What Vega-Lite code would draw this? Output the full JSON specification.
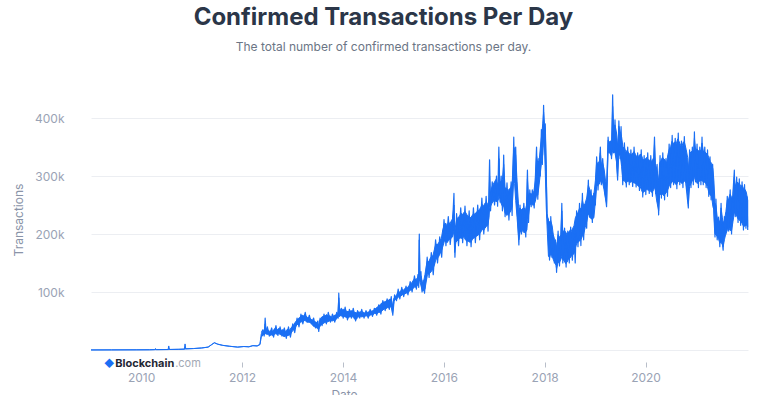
{
"$schema": "https://vega.github.io/schema/vega-lite/v6.json",
"width": 657,
"height": 261,
"padding": {"left": 12, "top": 6, "right": 33, "bottom": 0},
"background": "white",
"config": {"view": {"stroke": null}, "font": "Inter"},
"title": {"text": "Confirmed Transactions Per Day", "subtitle": "The total number of confirmed transactions per day.", "anchor": "middle", "frame": "bounds", "dx": 3, "font": "Inter", "fontSize": 24, "fontWeight": 700, "color": "#2b3648", "subtitleFont": "Inter", "subtitleFontSize": 12, "subtitleColor": "#6b7585", "subtitlePadding": 12, "offset": 36},
"layer": [
{
"data": {"values": [
{"d":"2009-01-03","h":100,"l":100},{"d":"2009-06-01","h":200,"l":200},{"d":"2009-12-01","h":300,"l":300},{"d":"2010-03-01","h":400,"l":400},
{"d":"2010-04-10","h":600,"l":600},{"d":"2010-04-15","h":2500,"l":600},{"d":"2010-04-20","h":600,"l":600},
{"d":"2010-07-15","h":800,"l":800},{"d":"2010-07-20","h":7000,"l":800},{"d":"2010-07-25","h":900,"l":900},
{"d":"2010-10-01","h":1200,"l":1200},{"d":"2010-11-10","h":1500,"l":1500},{"d":"2010-11-15","h":10500,"l":1500},{"d":"2010-11-20","h":2000,"l":2000},
{"d":"2011-01-15","h":2500,"l":2500},{"d":"2011-03-15","h":3500,"l":3500},{"d":"2011-05-01","h":5000,"l":5000},{"d":"2011-05-25","h":9000,"l":9000},
{"d":"2011-06-15","h":12500,"l":12500},{"d":"2011-07-10","h":10000,"l":10000},{"d":"2011-08-15","h":8000,"l":8000},{"d":"2011-10-01","h":6500,"l":6500},
{"d":"2011-12-01","h":5000,"l":5000},{"d":"2012-01-15","h":6000,"l":6000},{"d":"2012-02-20","h":5500,"l":5500},{"d":"2012-03-20","h":7500,"l":7500},
{"d":"2012-04-20","h":7000,"l":7000},{"d":"2012-05-10","h":10000,"l":9000},
{"d":"2012-05-20","h":28000,"l":22000},{"d":"2012-06-01","h":32000,"l":26000},{"d":"2012-06-14","h":34000,"l":27000},{"d":"2012-06-17","h":45000,"l":30000},
{"d":"2012-06-21","h":33000,"l":28000},{"d":"2012-07-01","h":36000,"l":27000},{"d":"2012-07-11","h":34000,"l":27000},{"d":"2012-07-21","h":32000,"l":25000},
{"d":"2012-08-01","h":34000,"l":26000},{"d":"2012-08-11","h":31000,"l":25000},{"d":"2012-08-21","h":36000,"l":27000},{"d":"2012-09-01","h":38000,"l":28000},
{"d":"2012-09-11","h":34000,"l":27000},{"d":"2012-09-21","h":37000,"l":29000},{"d":"2012-10-01","h":36000,"l":27000},{"d":"2012-10-11","h":34000,"l":26000},
{"d":"2012-10-21","h":35000,"l":25000},{"d":"2012-11-01","h":34000,"l":23000},{"d":"2012-11-11","h":32000,"l":24000},{"d":"2012-11-21","h":35000,"l":25000},
{"d":"2012-12-01","h":36000,"l":25000},{"d":"2012-12-11","h":34000,"l":26000},{"d":"2012-12-21","h":38000,"l":29000},
{"d":"2013-01-01","h":41000,"l":33000},{"d":"2013-01-11","h":44000,"l":35000},{"d":"2013-01-21","h":48000,"l":39000},{"d":"2013-02-01","h":51000,"l":43000},
{"d":"2013-02-11","h":54000,"l":45000},{"d":"2013-02-21","h":56000,"l":47000},{"d":"2013-03-01","h":58000,"l":48000},{"d":"2013-03-11","h":60000,"l":49000},
{"d":"2013-03-21","h":59000,"l":50000},{"d":"2013-04-01","h":61000,"l":51000},{"d":"2013-04-11","h":58000,"l":49000},{"d":"2013-04-21","h":56000,"l":48000},
{"d":"2013-05-01","h":56000,"l":48000},{"d":"2013-05-11","h":54000,"l":47000},{"d":"2013-05-21","h":52000,"l":45000},{"d":"2013-06-01","h":51000,"l":41000},
{"d":"2013-06-11","h":49000,"l":40000},{"d":"2013-06-21","h":48000,"l":39000},{"d":"2013-07-01","h":46000,"l":37000},{"d":"2013-07-08","h":41000,"l":35000},
{"d":"2013-07-15","h":51000,"l":39000},{"d":"2013-07-25","h":54000,"l":43000},{"d":"2013-08-05","h":58000,"l":45000},{"d":"2013-08-15","h":56000,"l":46000},
{"d":"2013-08-25","h":59000,"l":48000},{"d":"2013-09-05","h":61000,"l":48000},{"d":"2013-09-15","h":58000,"l":49000},{"d":"2013-09-25","h":59000,"l":50000},
{"d":"2013-10-05","h":58000,"l":51000},{"d":"2013-10-15","h":56000,"l":50000},{"d":"2013-10-25","h":59000,"l":51000},{"d":"2013-11-05","h":60000,"l":51000},
{"d":"2013-11-15","h":61000,"l":53000},{"d":"2013-11-25","h":62000,"l":57000},{"d":"2013-12-02","h":90000,"l":60000},{"d":"2013-12-08","h":71000,"l":60000},
{"d":"2013-12-18","h":68000,"l":59000},{"d":"2013-12-28","h":70000,"l":58000},
{"d":"2014-01-08","h":70000,"l":58000},{"d":"2014-01-18","h":68000,"l":57000},{"d":"2014-01-28","h":67000,"l":56000},{"d":"2014-02-08","h":66000,"l":55000},
{"d":"2014-02-18","h":68000,"l":57000},{"d":"2014-02-28","h":67000,"l":58000},{"d":"2014-03-08","h":68000,"l":58000},{"d":"2014-03-18","h":66000,"l":56000},
{"d":"2014-03-28","h":65000,"l":53000},{"d":"2014-04-08","h":64000,"l":53000},{"d":"2014-04-18","h":66000,"l":56000},{"d":"2014-04-28","h":65000,"l":58000},
{"d":"2014-05-08","h":66000,"l":58000},{"d":"2014-05-18","h":64000,"l":57000},{"d":"2014-05-28","h":65000,"l":58000},{"d":"2014-06-08","h":64000,"l":58000},
{"d":"2014-06-18","h":66000,"l":59000},{"d":"2014-06-28","h":65000,"l":58000},{"d":"2014-07-08","h":66000,"l":58000},{"d":"2014-07-18","h":68000,"l":60000},
{"d":"2014-07-28","h":67000,"l":61000},{"d":"2014-08-08","h":68000,"l":61000},{"d":"2014-08-18","h":70000,"l":63000},{"d":"2014-08-28","h":72000,"l":63000},
{"d":"2014-09-08","h":74000,"l":63000},{"d":"2014-09-18","h":76000,"l":65000},{"d":"2014-09-28","h":78000,"l":65000},{"d":"2014-10-08","h":81000,"l":67000},
{"d":"2014-10-18","h":82000,"l":69000},{"d":"2014-10-28","h":83000,"l":71000},{"d":"2014-11-08","h":84000,"l":71000},{"d":"2014-11-18","h":86000,"l":73000},
{"d":"2014-11-28","h":86000,"l":73000},{"d":"2014-12-08","h":88000,"l":75000},{"d":"2014-12-18","h":86000,"l":73000},{"d":"2014-12-26","h":76000,"l":63000},
{"d":"2015-01-05","h":89000,"l":84000},{"d":"2015-01-15","h":92000,"l":87000},{"d":"2015-01-25","h":95000,"l":88000},{"d":"2015-02-05","h":101000,"l":91000},
{"d":"2015-02-15","h":100000,"l":93000},{"d":"2015-02-25","h":102000,"l":93000},{"d":"2015-03-05","h":104000,"l":95000},{"d":"2015-03-15","h":103000,"l":96000},
{"d":"2015-03-25","h":106000,"l":97000},{"d":"2015-04-05","h":106000,"l":98000},{"d":"2015-04-15","h":108000,"l":99000},{"d":"2015-04-25","h":111000,"l":101000},
{"d":"2015-05-05","h":114000,"l":103000},{"d":"2015-05-15","h":116000,"l":104000},{"d":"2015-05-25","h":120000,"l":106000},{"d":"2015-06-05","h":123000,"l":109000},
{"d":"2015-06-15","h":121000,"l":108000},{"d":"2015-06-25","h":125000,"l":112000},{"d":"2015-07-03","h":123000,"l":113000},{"d":"2015-07-08","h":190000,"l":122000},
{"d":"2015-07-13","h":130000,"l":118000},{"d":"2015-07-22","h":127000,"l":109000},{"d":"2015-07-30","h":116000,"l":102000},{"d":"2015-08-08","h":118000,"l":102000},
{"d":"2015-08-18","h":130000,"l":105000},{"d":"2015-08-28","h":145000,"l":119000},{"d":"2015-09-05","h":154000,"l":130000},{"d":"2015-09-15","h":152000,"l":131000},
{"d":"2015-09-25","h":158000,"l":133000},{"d":"2015-10-05","h":161000,"l":136000},{"d":"2015-10-15","h":163000,"l":141000},{"d":"2015-10-25","h":173000,"l":146000},
{"d":"2015-11-05","h":183000,"l":156000},{"d":"2015-11-15","h":181000,"l":158000},{"d":"2015-11-25","h":185000,"l":161000},{"d":"2015-12-05","h":188000,"l":166000},
{"d":"2015-12-15","h":193000,"l":171000},{"d":"2015-12-25","h":207000,"l":178000},
{"d":"2016-01-05","h":216000,"l":187000},{"d":"2016-01-15","h":219000,"l":189000},{"d":"2016-01-25","h":213000,"l":185000},{"d":"2016-02-05","h":221000,"l":189000},
{"d":"2016-02-15","h":217000,"l":192000},{"d":"2016-02-25","h":223000,"l":193000},{"d":"2016-03-05","h":226000,"l":195000},{"d":"2016-03-15","h":250000,"l":205000},
{"d":"2016-03-20","h":202000,"l":168000},{"d":"2016-03-28","h":216000,"l":185000},{"d":"2016-04-05","h":226000,"l":188000},{"d":"2016-04-15","h":229000,"l":190000},
{"d":"2016-04-25","h":231000,"l":193000},{"d":"2016-05-05","h":236000,"l":193000},{"d":"2016-05-15","h":233000,"l":192000},{"d":"2016-05-25","h":237000,"l":196000},
{"d":"2016-06-05","h":238000,"l":190000},{"d":"2016-06-15","h":234000,"l":188000},{"d":"2016-06-25","h":230000,"l":188000},{"d":"2016-07-05","h":230000,"l":186000},
{"d":"2016-07-15","h":228000,"l":186000},{"d":"2016-07-25","h":232000,"l":190000},{"d":"2016-08-05","h":235000,"l":193000},{"d":"2016-08-15","h":234000,"l":194000},
{"d":"2016-08-25","h":238000,"l":196000},{"d":"2016-09-05","h":240000,"l":198000},{"d":"2016-09-15","h":242000,"l":200000},{"d":"2016-09-25","h":246000,"l":203000},
{"d":"2016-10-05","h":251000,"l":208000},{"d":"2016-10-15","h":248000,"l":206000},{"d":"2016-10-25","h":253000,"l":210000},{"d":"2016-11-05","h":254000,"l":213000},
{"d":"2016-11-15","h":251000,"l":216000},{"d":"2016-11-24","h":259000,"l":228000},{"d":"2016-11-28","h":300000,"l":245000},{"d":"2016-12-03","h":270000,"l":247000},
{"d":"2016-12-13","h":280000,"l":252000},{"d":"2016-12-23","h":285000,"l":256000},
{"d":"2017-01-03","h":290000,"l":258000},{"d":"2017-01-13","h":294000,"l":256000},{"d":"2017-01-23","h":285000,"l":256000},{"d":"2017-02-01","h":290000,"l":260000},
{"d":"2017-02-04","h":330000,"l":267000},{"d":"2017-02-09","h":290000,"l":262000},{"d":"2017-02-19","h":290000,"l":253000},{"d":"2017-03-01","h":294000,"l":248000},
{"d":"2017-03-10","h":320000,"l":248000},{"d":"2017-03-20","h":280000,"l":236000},{"d":"2017-04-01","h":278000,"l":232000},{"d":"2017-04-11","h":275000,"l":234000},
{"d":"2017-04-21","h":278000,"l":236000},{"d":"2017-05-01","h":280000,"l":240000},{"d":"2017-05-11","h":290000,"l":248000},{"d":"2017-05-22","h":350000,"l":296000},
{"d":"2017-05-28","h":346000,"l":287000},{"d":"2017-06-05","h":336000,"l":258000},{"d":"2017-06-15","h":290000,"l":228000},{"d":"2017-06-25","h":252000,"l":198000},
{"d":"2017-06-28","h":242000,"l":190000},{"d":"2017-07-06","h":245000,"l":202000},{"d":"2017-07-16","h":242000,"l":207000},{"d":"2017-07-26","h":244000,"l":205000},
{"d":"2017-08-05","h":245000,"l":202000},{"d":"2017-08-15","h":242000,"l":203000},{"d":"2017-08-25","h":252000,"l":207000},{"d":"2017-08-29","h":295000,"l":221000},
{"d":"2017-09-05","h":268000,"l":231000},{"d":"2017-09-15","h":270000,"l":250000},{"d":"2017-09-25","h":269000,"l":252000},{"d":"2017-10-05","h":270000,"l":250000},
{"d":"2017-10-15","h":274000,"l":250000},{"d":"2017-10-25","h":292000,"l":256000},{"d":"2017-11-03","h":335000,"l":267000},{"d":"2017-11-12","h":322000,"l":267000},
{"d":"2017-11-22","h":327000,"l":286000},{"d":"2017-12-01","h":350000,"l":306000},{"d":"2017-12-10","h":370000,"l":326000},{"d":"2017-12-18","h":390000,"l":337000},
{"d":"2017-12-24","h":410000,"l":366000},{"d":"2017-12-30","h":390000,"l":351000},
{"d":"2018-01-05","h":380000,"l":308000},{"d":"2018-01-12","h":320000,"l":248000},{"d":"2018-01-18","h":235000,"l":214000},{"d":"2018-01-28","h":222000,"l":162000},
{"d":"2018-02-06","h":221000,"l":159000},{"d":"2018-02-14","h":223000,"l":167000},{"d":"2018-02-24","h":214000,"l":162000},{"d":"2018-03-04","h":199000,"l":156000},
{"d":"2018-03-14","h":190000,"l":151000},{"d":"2018-03-24","h":185000,"l":146000},{"d":"2018-03-28","h":176000,"l":140000},{"d":"2018-04-08","h":199000,"l":151000},
{"d":"2018-04-18","h":194000,"l":151000},{"d":"2018-04-28","h":199000,"l":156000},{"d":"2018-05-05","h":240000,"l":161000},{"d":"2018-05-12","h":204000,"l":156000},
{"d":"2018-05-22","h":206000,"l":154000},{"d":"2018-06-01","h":204000,"l":149000},{"d":"2018-06-11","h":199000,"l":151000},{"d":"2018-06-21","h":202000,"l":156000},
{"d":"2018-07-01","h":206000,"l":158000},{"d":"2018-07-11","h":204000,"l":161000},{"d":"2018-07-21","h":209000,"l":164000},{"d":"2018-08-01","h":214000,"l":166000},
{"d":"2018-08-11","h":228000,"l":176000},{"d":"2018-08-21","h":233000,"l":184000},{"d":"2018-09-01","h":238000,"l":186000},{"d":"2018-09-11","h":245000,"l":188000},
{"d":"2018-09-21","h":243000,"l":191000},{"d":"2018-10-01","h":258000,"l":196000},{"d":"2018-10-11","h":248000,"l":201000},{"d":"2018-10-21","h":253000,"l":211000},
{"d":"2018-11-01","h":262000,"l":221000},{"d":"2018-11-13","h":284000,"l":235000},{"d":"2018-11-23","h":277000,"l":231000},{"d":"2018-12-03","h":268000,"l":226000},
{"d":"2018-12-13","h":265000,"l":226000},{"d":"2018-12-23","h":268000,"l":228000},
{"d":"2019-01-03","h":292000,"l":256000},{"d":"2019-01-12","h":324000,"l":282000},{"d":"2019-01-22","h":321000,"l":284000},{"d":"2019-02-01","h":326000,"l":286000},
{"d":"2019-02-08","h":340000,"l":291000},{"d":"2019-02-15","h":322000,"l":291000},{"d":"2019-02-25","h":322000,"l":288000},{"d":"2019-03-07","h":312000,"l":276000},
{"d":"2019-03-17","h":293000,"l":261000},{"d":"2019-03-25","h":284000,"l":253000},{"d":"2019-04-05","h":362000,"l":343000},{"d":"2019-04-12","h":360000,"l":341000},
{"d":"2019-04-22","h":357000,"l":338000},{"d":"2019-04-30","h":354000,"l":334000},{"d":"2019-05-08","h":420000,"l":344000},{"d":"2019-05-15","h":386000,"l":342000},
{"d":"2019-05-25","h":388000,"l":340000},{"d":"2019-06-04","h":376000,"l":326000},{"d":"2019-06-13","h":352000,"l":300000},{"d":"2019-06-22","h":386000,"l":336000},
{"d":"2019-07-02","h":376000,"l":336000},{"d":"2019-07-12","h":367000,"l":316000},{"d":"2019-07-22","h":349000,"l":292000},{"d":"2019-08-01","h":349000,"l":292000},
{"d":"2019-08-11","h":342000,"l":288000},{"d":"2019-08-21","h":344000,"l":290000},{"d":"2019-09-01","h":340000,"l":291000},{"d":"2019-09-11","h":337000,"l":289000},
{"d":"2019-09-21","h":337000,"l":290000},{"d":"2019-10-01","h":340000,"l":289000},{"d":"2019-10-11","h":342000,"l":288000},{"d":"2019-10-21","h":337000,"l":287000},
{"d":"2019-11-01","h":332000,"l":285000},{"d":"2019-11-11","h":334000,"l":282000},{"d":"2019-11-21","h":337000,"l":283000},{"d":"2019-12-01","h":337000,"l":277000},
{"d":"2019-12-11","h":330000,"l":271000},{"d":"2019-12-21","h":327000,"l":273000},
{"d":"2020-01-01","h":330000,"l":275000},{"d":"2020-01-11","h":332000,"l":277000},{"d":"2020-01-21","h":328000,"l":275000},{"d":"2020-02-01","h":327000,"l":277000},
{"d":"2020-02-11","h":325000,"l":272000},{"d":"2020-02-21","h":328000,"l":273000},{"d":"2020-03-01","h":332000,"l":277000},{"d":"2020-03-06","h":355000,"l":281000},
{"d":"2020-03-12","h":322000,"l":275000},{"d":"2020-03-22","h":312000,"l":257000},{"d":"2020-04-05","h":292000,"l":240000},{"d":"2020-04-12","h":322000,"l":267000},
{"d":"2020-04-22","h":327000,"l":269000},{"d":"2020-05-02","h":332000,"l":269000},{"d":"2020-05-12","h":330000,"l":266000},{"d":"2020-05-22","h":327000,"l":269000},
{"d":"2020-06-01","h":322000,"l":272000},{"d":"2020-06-11","h":337000,"l":277000},{"d":"2020-06-21","h":346000,"l":283000},{"d":"2020-07-01","h":351000,"l":287000},
{"d":"2020-07-11","h":360000,"l":289000},{"d":"2020-07-21","h":356000,"l":292000},{"d":"2020-08-01","h":359000,"l":287000},{"d":"2020-08-11","h":356000,"l":285000},
{"d":"2020-08-21","h":364000,"l":289000},{"d":"2020-09-01","h":359000,"l":292000},{"d":"2020-09-11","h":353000,"l":289000},{"d":"2020-09-21","h":351000,"l":287000},
{"d":"2020-10-01","h":359000,"l":289000},{"d":"2020-10-11","h":356000,"l":292000},{"d":"2020-10-21","h":346000,"l":287000},{"d":"2020-11-01","h":332000,"l":267000},
{"d":"2020-11-06","h":312000,"l":252000},{"d":"2020-11-15","h":337000,"l":282000},{"d":"2020-11-25","h":342000,"l":287000},{"d":"2020-12-05","h":342000,"l":292000},
{"d":"2020-12-15","h":346000,"l":292000},{"d":"2020-12-20","h":365000,"l":297000},{"d":"2020-12-28","h":346000,"l":297000},
{"d":"2021-01-08","h":346000,"l":287000},{"d":"2021-01-18","h":344000,"l":289000},{"d":"2021-01-28","h":342000,"l":292000},{"d":"2021-02-06","h":346000,"l":292000},
{"d":"2021-02-13","h":357000,"l":292000},{"d":"2021-02-22","h":344000,"l":290000},{"d":"2021-03-04","h":342000,"l":289000},{"d":"2021-03-14","h":340000,"l":287000},
{"d":"2021-03-24","h":337000,"l":282000},{"d":"2021-04-03","h":332000,"l":272000},{"d":"2021-04-13","h":325000,"l":267000},{"d":"2021-04-23","h":322000,"l":266000},
{"d":"2021-05-03","h":312000,"l":247000},{"d":"2021-05-10","h":292000,"l":242000},{"d":"2021-05-18","h":254000,"l":201000},{"d":"2021-05-25","h":249000,"l":198000},
{"d":"2021-06-03","h":229000,"l":196000},{"d":"2021-06-13","h":223000,"l":191000},{"d":"2021-06-23","h":222000,"l":184000},{"d":"2021-07-01","h":245000,"l":186000},
{"d":"2021-07-10","h":229000,"l":182000},{"d":"2021-07-16","h":219000,"l":178000},{"d":"2021-07-26","h":224000,"l":191000},{"d":"2021-08-05","h":239000,"l":201000},
{"d":"2021-08-15","h":258000,"l":206000},{"d":"2021-08-25","h":261000,"l":211000},{"d":"2021-09-05","h":269000,"l":206000},{"d":"2021-09-15","h":263000,"l":206000},
{"d":"2021-09-25","h":265000,"l":221000},{"d":"2021-10-05","h":298000,"l":236000},{"d":"2021-10-12","h":282000,"l":236000},{"d":"2021-10-22","h":290000,"l":231000},
{"d":"2021-11-01","h":288000,"l":226000},{"d":"2021-11-11","h":287000,"l":224000},{"d":"2021-11-21","h":282000,"l":221000},{"d":"2021-12-01","h":284000,"l":218000},
{"d":"2021-12-11","h":278000,"l":213000},{"d":"2021-12-21","h":277000,"l":214000},{"d":"2021-12-31","h":272000,"l":216000},{"d":"2022-01-10","h":258000,"l":212000}
]},
"mark": {"type": "area", "color": "#1a6ff4", "stroke": "#1a6ff4", "strokeWidth": 1, "strokeJoin": "round"},
"encoding": {
"x": {"field": "d", "type": "temporal", "title": "Date",
"scale": {"domain": [{"year": 2009, "month": 1, "date": 3}, {"year": 2022, "month": 1, "date": 12}]},
"axis": {"values": [{"year": 2010}, {"year": 2012}, {"year": 2014}, {"year": 2016}, {"year": 2018}, {"year": 2020}], "format": "%Y", "domain": false, "grid": false, "offset": 12, "tickSize": 5, "tickColor": "#b8bec9", "labelColor": "#9aa3b5", "labelFontSize": 12, "labelPadding": 5, "titleColor": "#8a94a8", "titleFontSize": 12, "titleFontWeight": 400, "titlePadding": 6, "titleX": 253}},
"y": {"field": "h", "type": "quantitative", "title": "Transactions",
"scale": {"domain": [0, 450000], "nice": false},
"axis": {"values": [0, 50000, 100000, 150000, 200000, 250000, 300000, 350000, 400000, 450000], "labelExpr": "datum.value > 0 && datum.value % 100000 == 0 ? (datum.value / 1000) + 'k' : ''", "ticks": false, "domain": false, "gridColor": "#eceef2", "labelColor": "#9aa3b5", "labelFontSize": 12, "labelPadding": 27, "titleColor": "#8a94a8", "titleFontSize": 12, "titleFontWeight": 400, "titlePadding": 9}},
"y2": {"field": "l"}
}
},
{
"data": {"values": [
{"d":"2012-05-20","v":30000},
{"d":"2012-06-01","v":35000},{"d":"2012-06-10","v":24000},{"d":"2012-06-17","v":55000},{"d":"2012-06-24","v":28000},
{"d":"2012-07-03","v":40000},{"d":"2012-07-17","v":24000},{"d":"2012-08-03","v":38000},{"d":"2012-08-17","v":22000},
{"d":"2012-09-03","v":42000},{"d":"2012-09-17","v":25000},{"d":"2012-10-03","v":40000},{"d":"2012-10-17","v":24000},
{"d":"2012-11-03","v":38000},{"d":"2012-11-17","v":20000},{"d":"2012-12-03","v":40000},{"d":"2012-12-17","v":22000},
{"d":"2013-01-03","v":45000},{"d":"2013-01-17","v":30000},{"d":"2013-02-03","v":55000},{"d":"2013-02-17","v":40000},
{"d":"2013-03-03","v":62000},{"d":"2013-03-17","v":45000},{"d":"2013-04-03","v":65000},{"d":"2013-04-17","v":48000},
{"d":"2013-05-03","v":60000},{"d":"2013-05-17","v":45000},{"d":"2013-06-03","v":55000},{"d":"2013-06-17","v":38000},
{"d":"2013-07-03","v":50000},{"d":"2013-07-10","v":32000},{"d":"2013-07-20","v":55000},{"d":"2013-08-03","v":42000},
{"d":"2013-08-17","v":62000},{"d":"2013-09-03","v":45000},{"d":"2013-09-17","v":65000},{"d":"2013-10-03","v":48000},
{"d":"2013-10-17","v":62000},{"d":"2013-11-03","v":48000},{"d":"2013-11-17","v":65000},{"d":"2013-11-28","v":55000},
{"d":"2013-12-02","v":98000},{"d":"2013-12-08","v":58000},{"d":"2013-12-20","v":72000},
{"d":"2014-01-03","v":55000},{"d":"2014-01-17","v":74000},{"d":"2014-02-03","v":52000},{"d":"2014-02-17","v":70000},
{"d":"2014-03-03","v":55000},{"d":"2014-03-17","v":72000},{"d":"2014-04-03","v":50000},{"d":"2014-04-17","v":68000},
{"d":"2014-05-03","v":55000},{"d":"2014-05-17","v":70000},{"d":"2014-06-03","v":55000},{"d":"2014-06-17","v":68000},
{"d":"2014-07-03","v":55000},{"d":"2014-07-17","v":70000},{"d":"2014-08-03","v":58000},{"d":"2014-08-17","v":72000},
{"d":"2014-09-03","v":60000},{"d":"2014-09-17","v":78000},{"d":"2014-10-03","v":62000},{"d":"2014-10-17","v":85000},
{"d":"2014-11-03","v":68000},{"d":"2014-11-17","v":88000},{"d":"2014-12-03","v":70000},{"d":"2014-12-17","v":92000},
{"d":"2014-12-28","v":60000},
{"d":"2015-01-10","v":95000},{"d":"2015-01-24","v":85000},{"d":"2015-02-05","v":105000},{"d":"2015-02-17","v":88000},
{"d":"2015-03-03","v":108000},{"d":"2015-03-17","v":92000},{"d":"2015-04-03","v":110000},{"d":"2015-04-17","v":95000},
{"d":"2015-05-03","v":118000},{"d":"2015-05-17","v":100000},{"d":"2015-06-03","v":128000},{"d":"2015-06-17","v":105000},
{"d":"2015-06-28","v":130000},{"d":"2015-07-04","v":108000},{"d":"2015-07-08","v":200000},{"d":"2015-07-12","v":120000},
{"d":"2015-07-20","v":135000},{"d":"2015-07-28","v":100000},{"d":"2015-08-05","v":120000},{"d":"2015-08-15","v":98000},
{"d":"2015-09-03","v":160000},{"d":"2015-09-17","v":125000},{"d":"2015-10-03","v":168000},{"d":"2015-10-17","v":130000},
{"d":"2015-11-03","v":190000},{"d":"2015-11-17","v":150000},{"d":"2015-12-03","v":195000},{"d":"2015-12-17","v":160000},
{"d":"2016-01-03","v":225000},{"d":"2016-01-17","v":180000},{"d":"2016-02-03","v":230000},{"d":"2016-02-17","v":182000},
{"d":"2016-03-08","v":235000},{"d":"2016-03-15","v":270000},{"d":"2016-03-22","v":160000},
{"d":"2016-04-03","v":235000},{"d":"2016-04-17","v":180000},{"d":"2016-05-03","v":245000},{"d":"2016-05-17","v":185000},
{"d":"2016-06-03","v":248000},{"d":"2016-06-17","v":180000},{"d":"2016-07-03","v":240000},{"d":"2016-07-17","v":178000},
{"d":"2016-08-03","v":245000},{"d":"2016-08-17","v":185000},{"d":"2016-09-03","v":250000},{"d":"2016-09-17","v":190000},
{"d":"2016-10-03","v":262000},{"d":"2016-10-17","v":200000},{"d":"2016-11-03","v":265000},{"d":"2016-11-17","v":205000},
{"d":"2016-11-28","v":328000},{"d":"2016-12-05","v":240000},{"d":"2016-12-17","v":290000},
{"d":"2017-01-03","v":250000},{"d":"2017-01-17","v":300000},{"d":"2017-01-25","v":248000},{"d":"2017-02-03","v":350000},
{"d":"2017-02-12","v":255000},{"d":"2017-02-20","v":300000},{"d":"2017-03-01","v":240000},{"d":"2017-03-10","v":336000},
{"d":"2017-03-20","v":230000},{"d":"2017-04-03","v":288000},{"d":"2017-04-17","v":224000},{"d":"2017-05-03","v":290000},
{"d":"2017-05-10","v":232000},{"d":"2017-05-22","v":367000},{"d":"2017-05-28","v":290000},{"d":"2017-06-05","v":350000},
{"d":"2017-06-15","v":250000},{"d":"2017-06-28","v":181000},{"d":"2017-07-06","v":250000},{"d":"2017-07-17","v":200000},
{"d":"2017-08-03","v":253000},{"d":"2017-08-17","v":195000},{"d":"2017-08-29","v":310000},{"d":"2017-09-06","v":220000},
{"d":"2017-09-15","v":276000},{"d":"2017-09-25","v":247000},{"d":"2017-10-03","v":276000},{"d":"2017-10-17","v":245000},
{"d":"2017-11-03","v":350000},{"d":"2017-11-12","v":260000},{"d":"2017-11-20","v":330000},{"d":"2017-11-30","v":300000},
{"d":"2017-12-08","v":380000},{"d":"2017-12-15","v":320000},{"d":"2017-12-24","v":422000},{"d":"2017-12-30","v":350000},
{"d":"2018-01-05","v":390000},{"d":"2018-01-12","v":300000},{"d":"2018-01-18","v":229000},{"d":"2018-01-28","v":225000},
{"d":"2018-02-05","v":155000},{"d":"2018-02-14","v":230000},{"d":"2018-02-22","v":160000},{"d":"2018-03-01","v":200000},
{"d":"2018-03-12","v":150000},{"d":"2018-03-20","v":190000},{"d":"2018-03-28","v":134000},{"d":"2018-04-08","v":205000},
{"d":"2018-04-18","v":145000},{"d":"2018-04-28","v":190000},{"d":"2018-05-05","v":253000},{"d":"2018-05-12","v":150000},
{"d":"2018-05-25","v":210000},{"d":"2018-06-05","v":143000},{"d":"2018-06-17","v":205000},{"d":"2018-06-28","v":150000},
{"d":"2018-07-08","v":212000},{"d":"2018-07-20","v":155000},{"d":"2018-08-01","v":200000},{"d":"2018-08-10","v":150000},
{"d":"2018-08-20","v":240000},{"d":"2018-08-30","v":178000},{"d":"2018-09-10","v":253000},{"d":"2018-09-20","v":180000},
{"d":"2018-10-01","v":270000},{"d":"2018-10-10","v":190000},{"d":"2018-10-20","v":250000},{"d":"2018-11-01","v":210000},
{"d":"2018-11-13","v":293000},{"d":"2018-11-22","v":229000},{"d":"2018-12-03","v":276000},{"d":"2018-12-12","v":220000},
{"d":"2018-12-22","v":270000},
{"d":"2019-01-03","v":250000},{"d":"2019-01-12","v":333000},{"d":"2019-01-22","v":276000},{"d":"2019-02-08","v":350000},
{"d":"2019-02-15","v":285000},{"d":"2019-02-25","v":330000},{"d":"2019-03-10","v":280000},{"d":"2019-03-25","v":247000},
{"d":"2019-04-05","v":367000},{"d":"2019-04-12","v":340000},{"d":"2019-04-22","v":360000},{"d":"2019-04-30","v":330000},
{"d":"2019-05-08","v":440000},{"d":"2019-05-15","v":340000},{"d":"2019-05-25","v":397000},{"d":"2019-06-03","v":335000},
{"d":"2019-06-13","v":293000},{"d":"2019-06-22","v":395000},{"d":"2019-07-01","v":330000},{"d":"2019-07-08","v":385000},
{"d":"2019-07-20","v":285000},{"d":"2019-08-01","v":357000},{"d":"2019-08-15","v":281000},{"d":"2019-08-25","v":350000},
{"d":"2019-09-05","v":285000},{"d":"2019-09-17","v":345000},{"d":"2019-09-30","v":282000},{"d":"2019-10-10","v":350000},
{"d":"2019-10-25","v":281000},{"d":"2019-11-05","v":340000},{"d":"2019-11-18","v":275000},{"d":"2019-12-01","v":345000},
{"d":"2019-12-12","v":264000},{"d":"2019-12-22","v":335000},
{"d":"2020-01-03","v":268000},{"d":"2020-01-17","v":340000},{"d":"2020-01-28","v":270000},{"d":"2020-02-08","v":335000},
{"d":"2020-02-20","v":265000},{"d":"2020-03-06","v":367000},{"d":"2020-03-15","v":270000},{"d":"2020-03-25","v":320000},
{"d":"2020-04-05","v":233000},{"d":"2020-04-15","v":335000},{"d":"2020-04-25","v":262000},{"d":"2020-05-05","v":340000},
{"d":"2020-05-18","v":259000},{"d":"2020-05-28","v":330000},{"d":"2020-06-08","v":265000},{"d":"2020-06-20","v":355000},
{"d":"2020-07-01","v":280000},{"d":"2020-07-12","v":370000},{"d":"2020-07-22","v":285000},{"d":"2020-08-03","v":365000},
{"d":"2020-08-15","v":278000},{"d":"2020-08-25","v":374000},{"d":"2020-09-05","v":285000},{"d":"2020-09-17","v":360000},
{"d":"2020-09-28","v":280000},{"d":"2020-10-08","v":368000},{"d":"2020-10-20","v":285000},{"d":"2020-11-06","v":245000},
{"d":"2020-11-15","v":345000},{"d":"2020-11-25","v":280000},{"d":"2020-12-05","v":350000},{"d":"2020-12-12","v":285000},
{"d":"2020-12-20","v":376000},{"d":"2020-12-28","v":290000},
{"d":"2021-01-08","v":355000},{"d":"2021-01-18","v":280000},{"d":"2021-01-28","v":350000},{"d":"2021-02-05","v":285000},
{"d":"2021-02-13","v":367000},{"d":"2021-02-22","v":285000},{"d":"2021-03-05","v":350000},{"d":"2021-03-15","v":280000},
{"d":"2021-03-25","v":345000},{"d":"2021-04-03","v":265000},{"d":"2021-04-12","v":333000},{"d":"2021-04-20","v":259000},
{"d":"2021-05-01","v":320000},{"d":"2021-05-10","v":236000},{"d":"2021-05-18","v":195000},{"d":"2021-05-25","v":260000},
{"d":"2021-06-03","v":190000},{"d":"2021-06-12","v":229000},{"d":"2021-06-22","v":178000},{"d":"2021-07-01","v":253000},
{"d":"2021-07-10","v":185000},{"d":"2021-07-16","v":172000},{"d":"2021-07-25","v":230000},{"d":"2021-08-05","v":200000},
{"d":"2021-08-15","v":265000},{"d":"2021-08-25","v":205000},{"d":"2021-09-05","v":276000},{"d":"2021-09-15","v":200000},
{"d":"2021-09-25","v":270000},{"d":"2021-10-05","v":310000},{"d":"2021-10-12","v":230000},{"d":"2021-10-22","v":298000},
{"d":"2021-11-01","v":220000},{"d":"2021-11-10","v":295000},{"d":"2021-11-20","v":215000},{"d":"2021-11-30","v":290000},
{"d":"2021-12-10","v":207000},{"d":"2021-12-18","v":285000},{"d":"2021-12-28","v":210000},{"d":"2022-01-05","v":264000},
{"d":"2022-01-10","v":207000}
]},
"mark": {"type": "line", "color": "#1a6ff4", "strokeWidth": 1.2, "strokeJoin": "round"},
"encoding": {"x": {"field": "d", "type": "temporal"}, "y": {"field": "v", "type": "quantitative"}}
},
{
"data": {"values": [{"t": "◆"}]},
"mark": {"type": "text", "align": "center", "baseline": "middle", "dx": -6, "dy": 14, "fontSize": 10, "color": "#1a6ff4"},
"encoding": {"x": {"datum": {"year": 2009, "month": 6, "date": 27}, "type": "temporal"}, "y": {"datum": 0, "type": "quantitative"}, "text": {"field": "t"}}
},
{
"data": {"values": [{"t": "Blockchain"}]},
"mark": {"type": "text", "align": "left", "baseline": "middle", "dx": 0, "dy": 14, "fontSize": 11, "fontWeight": 700, "font": "Inter", "color": "#1f2733"},
"encoding": {"x": {"datum": {"year": 2009, "month": 6, "date": 27}, "type": "temporal"}, "y": {"datum": 0, "type": "quantitative"}, "text": {"field": "t"}}
},
{
"data": {"values": [{"t": ".com"}]},
"mark": {"type": "text", "align": "left", "baseline": "middle", "dx": 60, "dy": 14, "fontSize": 11, "font": "Inter", "color": "#a3a9b4"},
"encoding": {"x": {"datum": {"year": 2009, "month": 6, "date": 27}, "type": "temporal"}, "y": {"datum": 0, "type": "quantitative"}, "text": {"field": "t"}}
}
]
}
